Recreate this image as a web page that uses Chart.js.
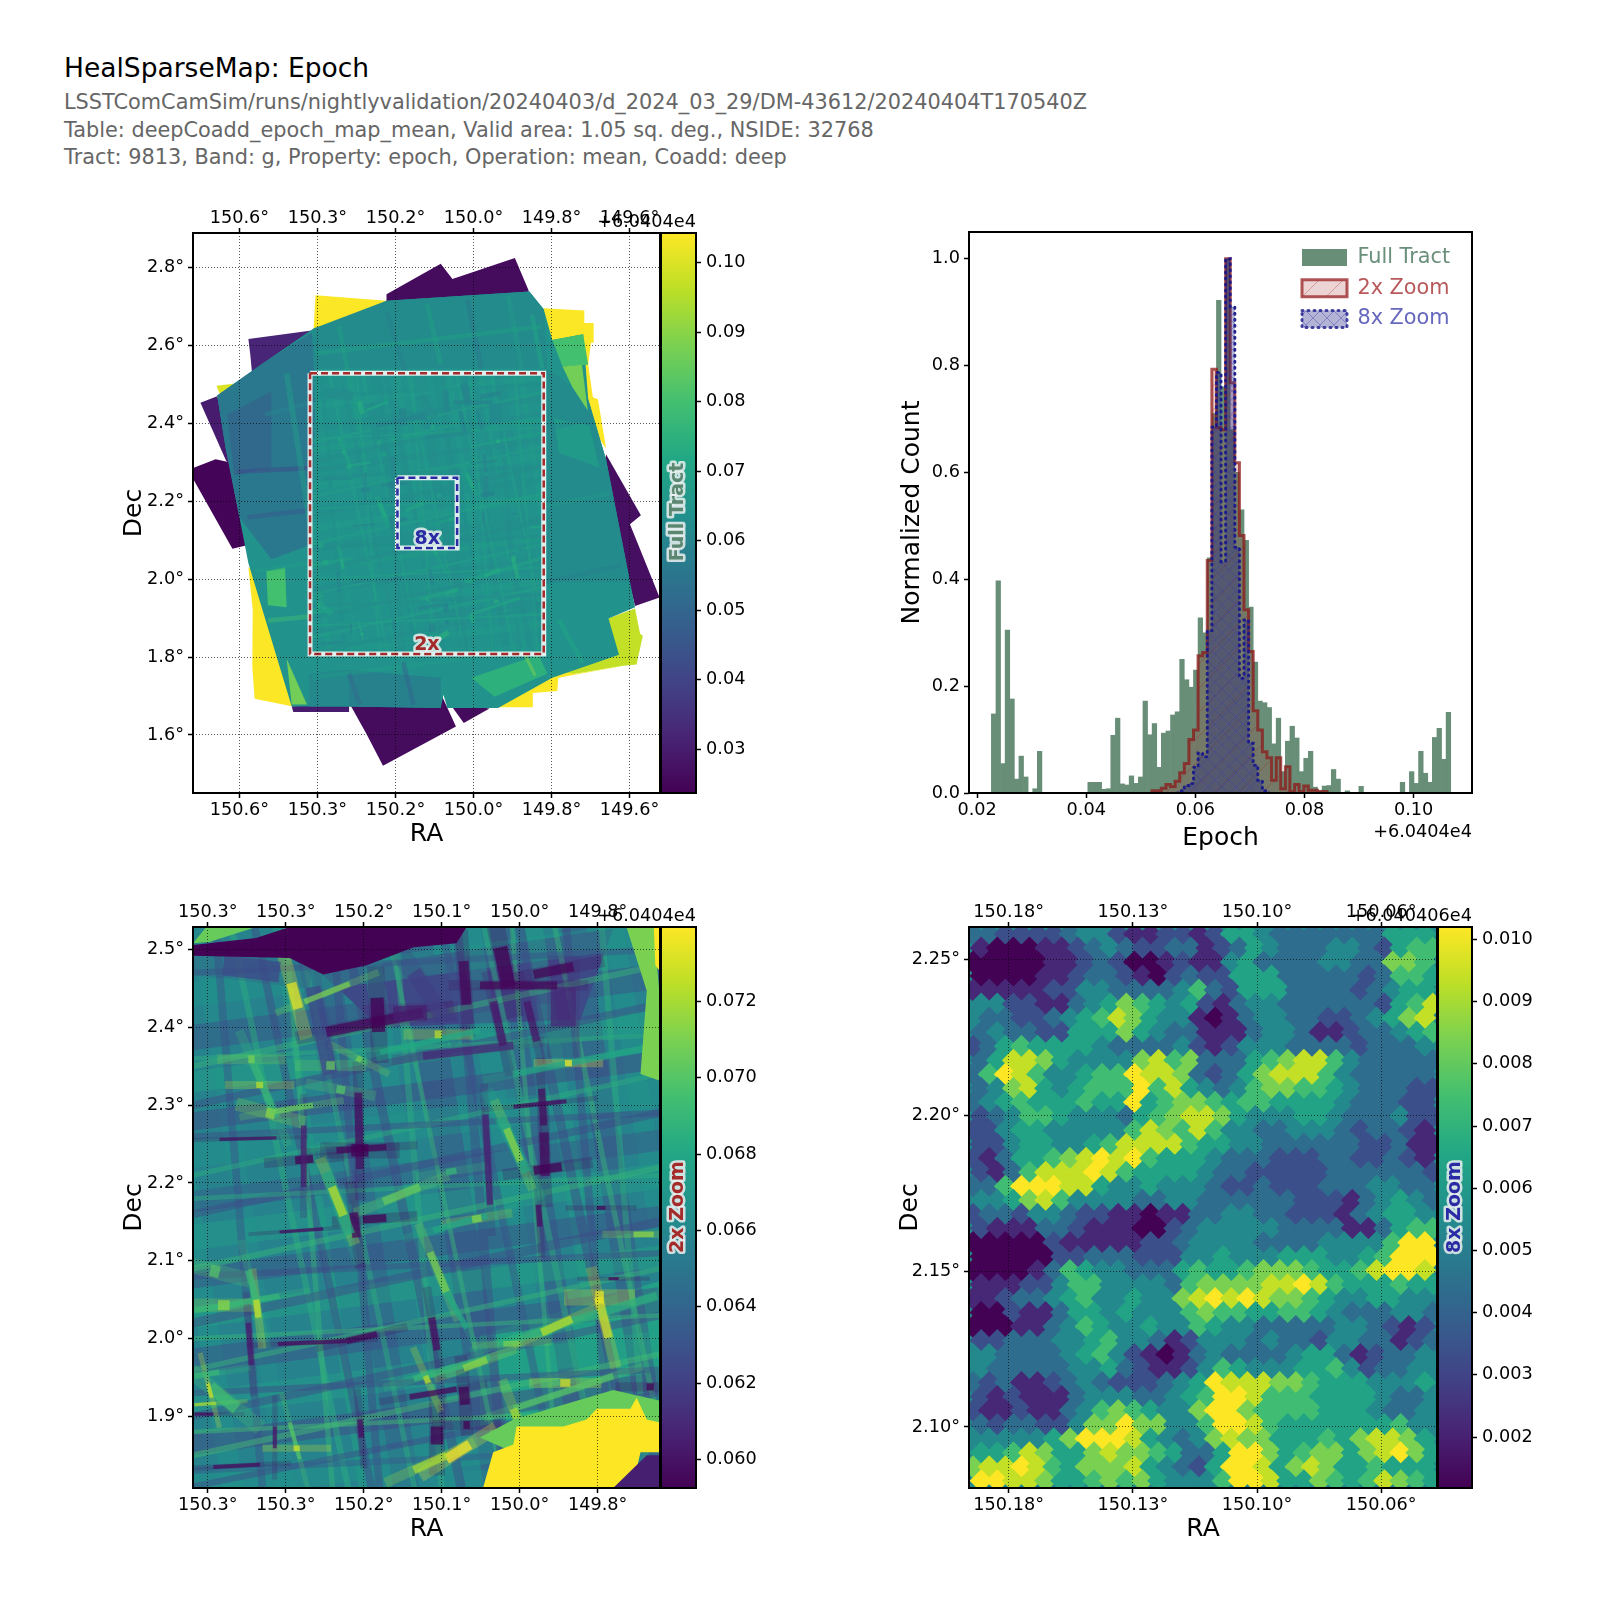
<!DOCTYPE html>
<html>
<head>
<meta charset="utf-8">
<title>HealSparseMap: Epoch</title>
<script src="https://cdn.jsdelivr.net/npm/chart.js@4/dist/chart.umd.js"></script>
<style>
	html, body { margin: 0; padding: 0; background: #fff; }
	#page { position: relative; width: 1600px; height: 1600px; overflow: hidden; font-family: "DejaVu Sans"; }
	#page canvas { position: absolute; }
	.txt { position: absolute; line-height: 1; white-space: pre; z-index: 5; }
</style>
</head>
<body>
<div id="page"></div>
<script>
'use strict';

const titleLines = [
	'HealSparseMap: Epoch',
	'LSSTComCamSim/runs/nightlyvalidation/20240403/d_2024_03_29/DM-43612/20240404T170540Z',
	'Table: deepCoadd_epoch_map_mean, Valid area: 1.05 sq. deg., NSIDE: 32768',
	'Tract: 9813, Band: g, Property: epoch, Operation: mean, Coadd: deep'
];

// --- histogram (values are normalised counts, 100 bins) ---
const binStart = 0.0226;
const binWidth = 0.000842;
const fullTractCounts = [
	.148, .397, .055, .305, .176, .026, .069, .03, 0, .008,
	.078, 0, 0, 0, 0, 0, 0, 0, 0, 0,
	0, .02, .02, .02, .007, .008, .108, .14, .017, .015,
	.032, .018, .03, .172, .109, .13, .048, .112, .116, .146,
	.152, .25, .212, .198, .23, .328, .30, .44, .71, .922,
	.76, 1, .68, .6, .53, .473, .348, .245, .172, .169,
	.16, .092, .14, .04, .097, .125, .103, .04, .065, .078,
	.011, .004, .013, .014, .044, .026, 0, .004, 0, 0,
	.0125, 0, 0, 0, 0, 0, 0, 0, 0, .02,
	0, .04, .018, .078, .037, .02, .104, .121, .063, .151
];
const zoom2xFirstBin = 34;
const zoom2xCounts = [0, .004, .004, .009, .016, .012, .022, .038, .055, .10, .118, .257, .263, .435, .793, .684, .68, 1, .768, .618, .482, .343, .265, .154, .118, .077, .066, .024, .066, .008, .049, .003, .016, .003, .013, .005, .005, .003, .003, 0];
const zoom8xFirstBin = 40;
const zoom8xCounts = [0, .004, .014, .018, .048, .075, .068, .304, .685, .787, .433, 1, .91, .46, .215, .324, .093, .052, .024, .004, 0];
const histTicks = [0.02, 0.04, 0.06, 0.08, 0.10];
const histTickLabels = ['0.02', '0.04', '0.06', '0.08', '0.10'];
const histCountTicks = [0, 0.2, 0.4, 0.6, 0.8, 1.0];
const histCountLabels = ['0.0', '0.2', '0.4', '0.6', '0.8', '1.0'];

// --- axis ticks of the sky panels ---
const fullRaTicks = [150.55, 150.35, 150.15, 149.95, 149.75, 149.55];
const fullRaLabels = ['150.6°', '150.3°', '150.2°', '150.0°', '149.8°', '149.6°'];
const fullDecTicks = [2.8, 2.6, 2.4, 2.2, 2.0, 1.8, 1.6];
const fullDecLabels = ['2.8°', '2.6°', '2.4°', '2.2°', '2.0°', '1.8°', '1.6°'];
const fullBarTicks = [0.03, 0.04, 0.05, 0.06, 0.07, 0.08, 0.09, 0.10];
const fullBarLabels = ['0.03', '0.04', '0.05', '0.06', '0.07', '0.08', '0.09', '0.10'];

const zoom2RaTicks = [150.35, 150.25, 150.15, 150.05, 149.95, 149.85];
const zoom2RaLabels = ['150.3°', '150.3°', '150.2°', '150.1°', '150.0°', '149.8°'];
const zoom2DecTicks = [2.5, 2.4, 2.3, 2.2, 2.1, 2.0, 1.9];
const zoom2DecLabels = ['2.5°', '2.4°', '2.3°', '2.2°', '2.1°', '2.0°', '1.9°'];
const zoom2BarTicks = [0.060, 0.062, 0.064, 0.066, 0.068, 0.070, 0.072];
const zoom2BarLabels = ['0.060', '0.062', '0.064', '0.066', '0.068', '0.070', '0.072'];

const zoom8RaTicks = [150.175, 150.135, 150.095, 150.055];
const zoom8RaLabels = ['150.18°', '150.13°', '150.10°', '150.06°'];
const zoom8DecTicks = [2.25, 2.20, 2.15, 2.10];
const zoom8DecLabels = ['2.25°', '2.20°', '2.15°', '2.10°'];
const zoom8BarTicks = [0.002, 0.003, 0.004, 0.005, 0.006, 0.007, 0.008, 0.009, 0.010];
const zoom8BarLabels = ['0.002', '0.003', '0.004', '0.005', '0.006', '0.007', '0.008', '0.009', '0.010'];

// --- axis limits [left, right, bottom, top], colour limits [min, max] ---
const fullLimits = [150.669, 149.472, 1.451, 2.889];
const fullRange = [0.0237, 0.1043];
const zoom2Limits = [150.369, 149.770, 1.808, 2.529];
const zoom2Range = [0.05925, 0.07395];
const zoom8Limits = [150.1878, 150.037, 2.0804, 2.2605];
const zoom8Range = [0.00118, 0.0102];

// --- sky footprints in the tract: [ra[], dec[], epoch offset] ---
const outerVisits = [
	[[150.355, 150.173, 150.216, 150.360], [2.729, 2.715, 2.668, 2.639], .104],
	[[149.770, 149.666, 149.666, 149.642, 149.642, 149.649, 149.656, 149.644, 149.631, 149.610, 149.774], [2.696, 2.690, 2.658, 2.658, 2.607, 2.607, 2.551, 2.467, 2.462, 2.335, 2.580], .104],
	[[150.527, 150.516, 150.517, 150.511, 150.416, 150.364, 150.468], [2.031, 1.923, 1.776, 1.693, 1.674, 1.678, 1.992], .104],
	[[149.605, 149.536, 149.523, 149.516, 149.532, 149.566, 149.688, 149.733, 149.774], [1.899, 1.925, 1.860, 1.855, 1.781, 1.778, 1.757, 1.747, 1.845], .097],
	[[149.688, 149.566, 149.733, 149.735, 149.798, 149.798, 149.891, 149.774], [1.757, 1.778, 1.747, 1.713, 1.708, 1.671, 1.671, 1.767], .104],
	[[150.609, 150.550, 150.598], [2.497, 2.504, 2.470], .1],
	[[150.173, 150.034, 150.004, 149.844, 149.809, 149.809, 150.173], [2.732, 2.810, 2.771, 2.825, 2.742, 2.678, 2.678], .0262],
	[[150.527, 150.360, 150.360, 150.485, 150.516, 150.522], [2.617, 2.639, 2.560, 2.521, 2.511, 2.575], .032],
	[[150.650, 150.607, 150.542, 150.585], [2.453, 2.470, 2.247, 2.306], .03],
	[[150.667, 150.611, 150.555, 150.520, 150.568, 150.667], [2.286, 2.308, 2.296, 2.090, 2.078, 2.255], .0245],
	[[150.269, 150.030, 149.995, 150.182, 150.225], [1.683, 1.698, 1.622, 1.521, 1.604], .0262],
	[[150.012, 149.909, 149.975], [1.682, 1.668, 1.631], .0262],
	[[149.610, 149.521, 149.549, 149.473, 149.536, 149.575, 149.618], [2.320, 2.164, 2.141, 1.953, 1.931, 2.090, 2.286], .027],
	[[150.416, 150.269, 150.269, 150.412], [1.674, 1.678, 1.659, 1.659], .03]
];
const mosaicOutline = [
	[[150.607, 150.485, 150.360, 150.221, 150.173, 149.807, 149.770, 149.748, 149.669, 149.656, 149.610, 149.536, 149.604, 149.577, 149.748, 149.887, 150.017, 150.027, 150.034, 150.269, 150.416, 150.468, 150.527, 150.550, 150.585],
		[2.472, 2.558, 2.644, 2.688, 2.715, 2.739, 2.693, 2.614, 2.629, 2.462, 2.306, 1.928, 1.899, 1.806, 1.747, 1.669, 1.669, 1.703, 1.669, 1.673, 1.673, 1.845, 2.041, 2.159, 2.335], .0645]
];
const mosaicPatches = [
	[[150.607, 150.485, 150.364, 150.355, 150.364, 150.468, 150.550, 150.585], [2.472, 2.558, 2.634, 2.502, 2.090, 2.051, 2.159, 2.335], .056],
	[[150.581, 150.468, 150.468, 150.563], [2.423, 2.482, 2.286, 2.266], .051],
	[[150.360, 150.173, 149.807, 149.770, 149.761, 150.360], [2.644, 2.715, 2.739, 2.693, 2.541, 2.541], .062],
	[[149.761, 149.656, 149.610, 149.549, 149.761], [2.541, 2.462, 2.306, 1.992, 1.992], .062],
	[[149.748, 149.669, 149.656, 149.722], [2.614, 2.629, 2.551, 2.546], .08],
	[[149.722, 149.672, 149.657, 149.696], [2.546, 2.551, 2.433, 2.492], .087],
	[[149.744, 149.653, 149.627, 149.731], [2.413, 2.394, 2.286, 2.325], .067],
	[[150.481, 150.433, 150.429, 150.477], [2.021, 2.031, 1.928, 1.933], .08],
	[[150.429, 150.377, 150.416], [1.796, 1.678, 1.678], .087],
	[[149.956, 149.783, 149.761, 149.896], [1.747, 1.806, 1.757, 1.698], .075],
	[[150.269, 150.034, 150.034, 150.269], [1.767, 1.747, 1.669, 1.673], .059],
	[[150.372, 150.269, 150.269, 150.372], [1.757, 1.767, 1.673, 1.673], .061]
];
const mosaicStreaks = [
	[150.295, 2.649, 150.242, 2.384, .012, .07], [150.173, 2.688, 150.121, 2.521, .012, .058],
	[150.069, 2.707, 150.034, 2.551, .012, .07], [149.965, 2.717, 149.930, 2.541, .012, .055],
	[149.861, 2.727, 149.826, 2.541, .012, .068], [149.800, 2.678, 149.774, 2.541, .012, .072],
	[150.355, 2.580, 149.774, 2.649, .012, .07], [150.485, 2.423, 150.364, 2.453, .012, .06],
	[150.555, 2.276, 150.364, 2.286, .012, .04], [150.529, 2.159, 150.364, 2.178, .012, .045],
	[150.511, 2.021, 150.372, 2.041, .012, .068], [150.477, 1.894, 150.372, 1.904, .012, .08],
	[149.766, 2.384, 149.650, 2.414, .012, .06], [149.766, 2.188, 149.600, 2.221, .012, .066],
	[149.766, 1.992, 149.570, 2.036, .012, .058], [150.364, 1.747, 149.818, 1.816, .012, .068],
	[150.269, 1.757, 150.242, 1.678, .012, .05], [150.130, 1.786, 150.104, 1.678, .012, .048],
	[149.818, 1.806, 149.792, 1.752, .008, .09], [149.731, 1.894, 149.670, 1.786, .012, .072]
];

// --- the overlapping visits inside the 2x window: [ra0, dec0, ra1, dec1, width deg, epoch offset] ---
const crossPassesV = [
	[150.429, 2.529, 150.318, 1.808, .015, .067], [150.360, 2.529, 150.249, 1.808, .013, .0665],
	[150.262, 2.529, 150.151, 1.808, .006, .068], [150.206, 2.529, 150.095, 1.808, .019, .063],
	[150.146, 2.529, 150.035, 1.808, .013, .067], [150.086, 2.529, 149.975, 1.808, .023, .0625],
	[150.014, 2.529, 149.903, 1.808, .015, .067], [149.975, 2.529, 149.864, 1.808, .015, .0625],
	[149.932, 2.529, 149.821, 1.808, .013, .0675], [149.881, 2.529, 149.770, 1.808, .018, .0625],
	[149.830, 2.529, 149.770, 2.140, .015, .067]
];
const crossPassesH = [
	[150.369, 2.443, 149.770, 2.522, .018, .067], [150.369, 2.387, 149.770, 2.466, .018, .0625],
	[150.369, 2.330, 149.770, 2.409, .015, .068], [150.369, 2.279, 149.770, 2.358, .013, .062],
	[150.369, 2.237, 149.770, 2.316, .02, .067], [150.369, 2.176, 149.770, 2.255, .015, .063],
	[150.369, 2.130, 149.770, 2.209, .018, .0675], [150.369, 2.078, 149.770, 2.157, .015, .0625],
	[150.369, 2.027, 149.770, 2.106, .015, .068], [150.369, 1.971, 149.770, 2.050, .018, .0625],
	[150.369, 1.915, 149.770, 1.994, .018, .0675], [150.369, 1.864, 149.770, 1.943, .015, .062],
	[150.369, 1.808, 149.770, 1.886, .02, .067], [150.150, 1.808, 149.770, 1.826, .018, .0665]
];
const crossPassesFine = [
	[150.320, 2.529, 150.170, 1.808, .008, .0685], [150.290, 2.529, 150.140, 1.808, .01, .0625],
	[150.235, 2.529, 150.085, 1.808, .007, .0685], [150.175, 2.529, 150.025, 1.808, .012, .0625],
	[150.120, 2.529, 149.970, 1.808, .006, .069], [150.050, 2.529, 149.900, 1.808, .01, .063],
	[149.995, 2.529, 149.845, 1.808, .008, .0685], [149.950, 2.529, 149.800, 1.808, .012, .0625],
	[149.905, 2.529, 149.770, 1.880, .007, .069], [150.340, 2.529, 150.280, 1.808, .01, .063],
	[150.250, 2.529, 150.190, 1.808, .007, .069], [150.190, 2.529, 150.130, 1.808, .01, .0625],
	[150.110, 2.529, 150.050, 1.808, .008, .0685], [150.030, 2.529, 149.970, 1.808, .012, .0625],
	[149.960, 2.529, 149.900, 1.808, .006, .069], [149.890, 2.529, 149.830, 1.808, .01, .0625],
	[149.845, 2.529, 149.785, 1.808, .008, .0685], [150.369, 2.350, 149.770, 2.480, .008, .069],
	[150.369, 2.300, 149.770, 2.430, .01, .0625], [150.369, 2.210, 149.770, 2.340, .007, .0685],
	[150.369, 2.160, 149.770, 2.290, .01, .0625], [150.369, 2.090, 149.770, 2.220, .008, .069],
	[150.369, 2.020, 149.770, 2.150, .012, .0625], [150.369, 1.960, 149.770, 2.090, .007, .069],
	[150.369, 1.900, 149.770, 2.030, .01, .0625], [150.369, 1.850, 149.770, 1.980, .008, .0695],
	[150.369, 1.810, 149.770, 1.930, .008, .0625], [150.369, 2.470, 149.770, 2.500, .008, .063],
	[150.369, 2.360, 149.770, 2.390, .006, .0685], [150.369, 2.260, 149.770, 2.290, .008, .0625],
	[150.369, 2.180, 149.770, 2.210, .006, .0685], [150.369, 2.080, 149.770, 2.110, .008, .0625],
	[150.369, 2.000, 149.770, 2.030, .006, .069], [150.369, 1.930, 149.770, 1.960, .008, .0625],
	[150.369, 1.880, 149.770, 1.910, .006, .0695], [150.369, 1.830, 149.770, 1.860, .008, .0635]
];
const shallowStreaks = [
	[150.330, 2.480, 150.258, 2.471, .026, .0625], [149.894, 2.452, 149.894, 2.401, .032, .061],
	[150.086, 2.471, 150.048, 2.415, .019, .062], [150.215, 2.452, 150.193, 2.340, .019, .0625],
	[150.074, 2.363, 149.958, 2.377, .01, .061], [150.198, 2.394, 150.074, 2.419, .013, .0595],
	[150.133, 2.438, 150.131, 2.394, .017, .0593], [150.112, 2.417, 150.069, 2.419, .02, .0605],
	[150.022, 2.485, 150.018, 2.429, .013, .0595], [149.975, 2.503, 149.964, 2.452, .018, .0593],
	[150.001, 2.454, 149.902, 2.454, .01, .0595], [149.932, 2.468, 149.881, 2.478, .012, .0595],
	[149.984, 2.433, 149.971, 2.377, .01, .0602], [149.941, 2.433, 149.928, 2.382, .009, .0602],
	[150.157, 2.316, 150.155, 2.218, .01, .0598], [150.185, 2.242, 150.121, 2.246, .008, .0595],
	[150.166, 2.242, 150.144, 2.242, .016, .0593], [150.238, 2.229, 150.215, 2.231, .01, .0593],
	[150.227, 2.274, 150.227, 2.195, .007, .0605], [149.922, 2.321, 149.919, 2.274, .009, .0598],
	[149.919, 2.265, 149.917, 2.209, .012, .0597], [149.932, 2.216, 149.896, 2.221, .011, .0593],
	[149.958, 2.298, 149.890, 2.305, .005, .0598], [149.994, 2.288, 149.988, 2.172, .008, .0605],
	[150.163, 2.162, 150.159, 2.130, .011, .0595], [150.151, 2.153, 150.121, 2.155, .01, .0593],
	[150.335, 2.256, 150.262, 2.258, .004, .0598], [150.260, 1.993, 150.172, 1.997, .005, .0597],
	[150.172, 1.997, 150.133, 2.006, .008, .0595], [150.063, 2.027, 150.056, 1.985, .009, .0598],
	[150.298, 2.020, 150.294, 1.966, .007, .0603], [150.091, 1.925, 150.031, 1.935, .007, .0597],
	[150.022, 1.938, 150.020, 1.915, .013, .0593], [150.022, 1.889, 150.014, 1.889, .01, .0593],
	[150.056, 1.887, 150.056, 1.864, .016, .0593], [149.926, 2.172, 149.924, 2.144, .007, .0598],
	[149.851, 2.168, 149.840, 2.168, .005, .0595], [149.836, 2.077, 149.823, 2.077, .004, .0595],
	[149.787, 1.938, 149.778, 1.938, .009, .0593], [150.155, 1.896, 150.153, 1.873, .007, .0598],
	[150.367, 1.903, 150.343, 1.903, .004, .0597], [150.264, 1.887, 150.264, 1.859, .005, .0602],
	[150.343, 1.835, 150.283, 1.838, .005, .0597], [150.258, 2.137, 150.202, 2.141, .004, .0598]
];
const deepStreaks = [
	[150.129, 2.368, 150.001, 2.396, .007, .068], [149.958, 2.340, 149.770, 2.377, .008, .068],
	[150.294, 2.359, 150.262, 2.284, .009, .069], [149.975, 2.284, 149.941, 2.214, .013, .068],
	[150.198, 2.214, 150.168, 2.134, .014, .068], [150.061, 2.139, 149.992, 2.158, .008, .068],
	[150.044, 2.060, 150.018, 2.013, .007, .068], [150.367, 2.036, 150.258, 2.055, .007, .069],
	[150.298, 2.088, 150.283, 2.027, .008, .069], [149.975, 1.994, 149.774, 2.055, .01, .0685],
	[150.086, 1.948, 149.988, 1.976, .008, .069], [149.958, 1.910, 149.830, 1.952, .008, .07],
	[150.367, 1.952, 150.335, 1.957, .007, .069], [150.347, 1.938, 150.313, 1.910, .015, .0695],
	[150.245, 1.892, 150.232, 1.845, .005, .07], [150.243, 2.457, 150.234, 2.424, .013, .0735],
	[150.226, 2.433, 150.168, 2.456, .007, .071], [150.059, 2.391, 150.050, 2.391, .01, .0725],
	[149.892, 2.354, 149.883, 2.354, .008, .074], [150.298, 2.359, 150.290, 2.359, .01, .071],
	[150.288, 2.326, 150.279, 2.326, .008, .0725], [150.275, 2.291, 150.264, 2.288, .013, .0715],
	[150.270, 2.291, 150.215, 2.300, .007, .0705], [150.198, 2.351, 150.187, 2.351, .011, .0705],
	[150.159, 2.361, 150.153, 2.358, .007, .071], [150.185, 2.321, 150.174, 2.319, .01, .07],
	[149.967, 2.270, 149.949, 2.228, .009, .0715], [150.191, 2.195, 150.176, 2.158, .011, .0725],
	[150.125, 2.176, 150.078, 2.195, .01, .0705], [150.044, 2.214, 150.031, 2.216, .008, .069],
	[150.011, 2.153, 149.999, 2.155, .009, .0715], [150.065, 2.111, 150.044, 2.060, .009, .071],
	[150.347, 2.088, 150.335, 2.085, .015, .07], [150.337, 2.043, 150.322, 2.043, .013, .0715],
	[150.288, 2.050, 150.285, 2.027, .008, .073], [149.849, 2.053, 149.836, 2.001, .011, .073],
	[149.853, 2.053, 149.842, 2.053, .016, .0735], [149.922, 2.008, 149.883, 2.025, .01, .0725],
	[149.971, 1.993, 149.949, 1.994, .007, .071], [150.022, 1.962, 149.992, 1.973, .009, .0715],
	[150.071, 1.952, 150.067, 1.943, .007, .0725], [149.898, 1.943, 149.885, 1.943, .01, .073],
	[149.958, 1.910, 149.949, 1.887, .01, .072], [150.240, 1.859, 150.232, 1.859, .007, .073],
	[149.804, 2.134, 149.778, 2.134, .007, .0715], [150.367, 1.915, 150.339, 1.917, .004, .072],
	[150.350, 1.943, 150.345, 1.924, .005, .073], [150.044, 1.845, 150.014, 1.864, .013, .074],
	[150.086, 1.831, 150.044, 1.850, .01, .072]
];
const zoom2Background = [[[150.369, 149.770, 149.770, 150.369], [2.529, 2.529, 1.808, 1.808], .0658]];
const zoom2Wash = [
	[[150.206, 149.830, 149.872, 150.129], [2.471, 2.527, 2.410, 2.400], .0625],
	[[150.001, 149.770, 149.770, 150.001], [2.004, 2.074, 1.910, 1.887], .0675]
];
const zoom2Regions = [
	[[150.245, 150.018, 150.031, 150.086, 150.146, 150.202, 150.245, 150.369, 150.369, 150.288], [2.529, 2.529, 2.508, 2.503, 2.480, 2.468, 2.489, 2.492, 2.506, 2.515], .0593],
	[[150.352, 150.288, 150.347, 150.369], [2.529, 2.529, 2.510, 2.508], .0705],
	[[149.813, 149.778, 149.769, 149.769, 149.795, 149.787], [2.529, 2.529, 2.424, 2.331, 2.340, 2.447], .071],
	[[149.778, 149.769, 149.769, 149.776], [2.529, 2.529, 2.471, 2.480], .074],
	[[150.001, 149.958, 149.830, 149.769, 149.769, 149.958], [1.873, 1.896, 1.934, 1.920, 1.892, 1.854], .0705],
	[[149.954, 149.894, 149.864, 149.851, 149.808, 149.800, 149.787, 149.769, 149.769, 149.795, 149.800, 149.830, 149.997, 149.984, 149.958], [1.887, 1.887, 1.896, 1.910, 1.910, 1.924, 1.896, 1.892, 1.854, 1.854, 1.832, 1.808, 1.808, 1.854, 1.864], .074],
	[[149.787, 149.769, 149.769, 149.830], [1.850, 1.850, 1.808, 1.808], .0605]
];

// the two zoom windows drawn on the full tract: ra[], dec[]
const window2xRa = [150.369, 149.770, 149.770, 150.369, 150.369];
const window2xDec = [2.529, 2.529, 1.808, 1.808, 2.529];
const window8xRa = [150.145, 149.992, 149.992, 150.145, 150.145];
const window8xDec = [2.2605, 2.2605, 2.0804, 2.0804, 2.2605];

// --- 8x window: epoch level of each healpix-like cell, row by row from the top ---
const zoom8LevelValues = [.0012, .0022, .0034, .0044, .0054, .0064, .0074, .0084, .0094, .0102];
const zoom8Levels = [
	'33222234421122125543333333555', '10001123432233123543334432566', '00000112320012114533334433776',
	'00001123321023225553333323665', '11111224433334632555333323455', '44221134576545213443333332568',
	'43322345687544101344332234578', '34332255575433111344311233456', '23565555433334212444333323334',
	'35887544447867333567886433333', '36986445669887323578886433333', '34785456669685434677665433322',
	'34565556559567765665555433322', '23466544435678875444554333422', '22455444446876864433444323321',
	'22455445688886554433333322311', '21355678989655543332223322321', '21368889865555433222223333332',
	'33699988544544432232223334433', '44578644443344333333222134543', '23324432211011334433222134554',
	'21113321110023444443333113566', '00000211111223444433334444699', '00000223332224454445554456999',
	'00001365443335655677765568998', '11122466444436777788986555655', '11233456445447898987765445544',
	'00211355454446766556654333443', '00011346544544654433333443212', '22333445644312444343324433123',
	'44333345642101343333455312334', '43333344532112465444556423344', '32311234322234598887765554445',
	'21211134443345699866655554334', '21121134676544799766665554334', '32332247797744699865555555644',
	'44444579998543478775556578875', '55687557877653359975677578975', '78898657778543259985787556555',
	'99887556767544469985576568765'
];
const zoom8Backdrop = [[[150.1878, 150.037, 150.037, 150.1878], [2.2605, 2.2605, 2.0804, 2.0804], .0054]];
const zoom8Origin = [150.1878, 2.2605];
const zoom8Step = [0.0052, 0.0045];

// --- viridis colour table ---
const viridisStops = [
	[68, 1, 84], [72, 36, 117], [65, 68, 135], [53, 95, 141], [42, 120, 142], [33, 145, 140],
	[34, 168, 132], [68, 191, 112], [122, 209, 81], [189, 223, 38], [253, 231, 37]
];
const viridis = (t, alpha) => {
	const p = Math.min(Math.max(t, 0), 1) * (viridisStops.length - 1);
	const i = Math.min(Math.floor(p), viridisStops.length - 2);
	const c = viridisStops[i].map((v, k) => Math.round(v + (viridisStops[i + 1][k] - v) * (p - i)));
	return 'rgba(' + c.join(',') + ',' + (alpha === undefined ? 1 : alpha) + ')';
};
const colourOf = (value, range, alpha) => viridis((value - range[0]) / (range[1] - range[0]), alpha);

// --- panel rectangles on the page ---
const FONT = '"DejaVu Sans"';
const TICK_SIZE = 17.7;
const LABEL_SIZE = 25;
const page = document.getElementById('page');
const MARGIN = {left: 90, top: 40, bottom: 75, right: 4};

const addText = (text, x, baseline, size, color, align) => {
	const el = document.createElement('div');
	el.className = 'txt';
	el.textContent = text;
	el.style.fontSize = size + 'px';
	el.style.color = color;
	el.style.top = (baseline - 0.846 * size) + 'px';
	if (align === 'right') {
		el.style.right = (1600 - x) + 'px';
	} else {
		el.style.left = x + 'px';
	}
	page.appendChild(el);
};

const addCanvas = (left, top, width, height) => {
	const canvas = document.createElement('canvas');
	canvas.width = width;
	canvas.height = height;
	canvas.style.left = left + 'px';
	canvas.style.top = top + 'px';
	canvas.style.width = width + 'px';
	canvas.style.height = height + 'px';
	page.appendChild(canvas);
	return canvas;
};

const framePlugin = {
	id: 'frame',
	afterDraw(chart) {
		const {ctx, chartArea: a} = chart;
		ctx.save();
		ctx.lineWidth = 2;
		ctx.strokeStyle = '#000';
		ctx.strokeRect(a.left, a.top, a.right - a.left, a.bottom - a.top);
		ctx.restore();
	}
};

// fixes the axis box so the plot area lands on the wanted pixels
const fixedBox = (size) => (scale) => {
	if (scale.isHorizontal()) {
		scale.height = size;
	} else {
		scale.width = size;
	}
	scale.paddingLeft = scale.paddingRight = scale.paddingTop = scale.paddingBottom = 0;
};

const tickedAxis = (positions, labels, labelGap, extra) => Object.assign({
	type: 'linear',
	afterBuildTicks: (scale) => {
		scale.ticks = positions.map((v) => ({value: v}));
	},
	ticks: {
		autoSkip: false,
		maxRotation: 0,
		minRotation: 0,
		padding: labelGap,
		color: '#000',
		font: {family: FONT, size: TICK_SIZE},
		callback: (v, i) => labels[i]
	},
	border: {display: false, dash: [1, 2]}
}, extra);

const dottedGrid = {
	color: 'rgba(0,0,0,0.65)',
	lineWidth: 1,
	z: 1,
	tickLength: 5,
	tickColor: '#000',
	tickWidth: 1.5,
	tickBorderDash: []
};
const ticksOnlyGrid = {drawOnChartArea: false, tickLength: 5, tickColor: '#000', tickWidth: 1.5};

const polygonSets = (polygons, range) => polygons.map(([ra, dec, value]) => ({
	data: ra.map((x, i) => ({x: x, y: dec[i]})),
	showLine: true,
	fill: 'shape',
	backgroundColor: colourOf(value, range),
	borderWidth: 0,
	pointRadius: 0,
	tension: 0
}));

const streakSets = (streaks, range, pxPerDeg, alpha) => streaks.map(([ra0, dec0, ra1, dec1, width, value]) => ({
	data: [{x: ra0, y: dec0}, {x: ra1, y: dec1}],
	showLine: true,
	fill: false,
	borderColor: colourOf(value, range, alpha),
	borderWidth: width * pxPerDeg,
	pointRadius: 0
}));

// a visit keeps running past its deepest part: same line, longer and fainter
const haloSets = (streaks, range, pxPerDeg, alpha) => streaks.map(([ra0, dec0, ra1, dec1, width, value]) => {
	const dRa = ra1 - ra0 + 0.0001;
	const dDec = dec1 - dec0;
	const reach = 0.04 / Math.hypot(dRa, dDec);
	return {
		data: [
			{x: ra0 - dRa * reach, y: dec0 - dDec * reach},
			{x: ra1 + dRa * reach, y: dec1 + dDec * reach}
		],
		showLine: true,
		fill: false,
		borderColor: colourOf(value, range, alpha),
		borderWidth: width * pxPerDeg * 1.3,
		pointRadius: 0
	};
});

const windowSets = (ra, dec, color) => {
	const data = ra.map((x, i) => ({x: x, y: dec[i]}));
	return [
		{data: data, showLine: true, fill: false, borderColor: 'rgba(255,255,255,0.85)', borderWidth: 5, pointRadius: 0},
		{data: data, showLine: true, fill: false, borderColor: color, borderWidth: 2.5, borderDash: [7, 4], pointRadius: 0}
	];
};

const skyPanel = (rect, limits, raTicks, raLabels, decTicks, decLabels, datasets, plugins) => {
	const canvas = addCanvas(rect.l - MARGIN.left, rect.t - MARGIN.top,
		rect.r - rect.l + MARGIN.left + MARGIN.right, rect.b - rect.t + MARGIN.top + MARGIN.bottom);
	return new Chart(canvas, {
		type: 'scatter',
		// the first dataset is painted last, so flip the paint order
		data: {datasets: datasets.slice().reverse()},
		plugins: [framePlugin].concat(plugins || []),
		options: {
			responsive: false,
			animation: false,
			devicePixelRatio: 1,
			events: [],
			layout: {autoPadding: false, padding: {right: MARGIN.right}},
			plugins: {legend: {display: false}, tooltip: {enabled: false}},
			scales: {
				x: tickedAxis(raTicks, raLabels, 2, {
					position: 'bottom',
					reverse: true,
					min: limits[1],
					max: limits[0],
					afterFit: fixedBox(MARGIN.bottom),
					grid: dottedGrid,
					title: {display: true, text: 'RA', color: '#000', font: {family: FONT, size: LABEL_SIZE}, padding: {top: 0, bottom: 19}}
				}),
				xTop: tickedAxis(raTicks, raLabels, -1, {
					axis: 'x',
					position: 'top',
					reverse: true,
					min: limits[1],
					max: limits[0],
					afterFit: fixedBox(MARGIN.top),
					grid: ticksOnlyGrid
				}),
				y: tickedAxis(decTicks, decLabels, 4, {
					position: 'left',
					min: limits[2],
					max: limits[3],
					afterFit: fixedBox(MARGIN.left),
					grid: dottedGrid,
					title: {display: true, text: 'Dec', color: '#000', font: {family: FONT, size: LABEL_SIZE}, padding: {top: 16, bottom: 0}}
				})
			}
		}
	});
};

const colorBar = (left, right, top, bottom, range, ticks, labels, name, nameColor, nameY) => {
	const pad = 4;
	const axisWidth = 64;
	const canvas = addCanvas(left, top - pad, right - left + axisWidth, bottom - top + 2 * pad);
	const namePlugin = {
		id: 'barName',
		afterDraw(chart) {
			const {ctx, chartArea: a} = chart;
			ctx.save();
			ctx.translate((a.left + a.right) / 2, nameY - top + pad);
			ctx.rotate(-Math.PI / 2);
			ctx.font = 'bold 19px ' + FONT;
			ctx.textAlign = 'center';
			ctx.textBaseline = 'middle';
			ctx.lineJoin = 'round';
			ctx.lineWidth = 5;
			ctx.strokeStyle = 'rgba(235,240,240,0.85)';
			ctx.strokeText(name, 0, 0);
			ctx.fillStyle = nameColor;
			ctx.fillText(name, 0, 0);
			ctx.restore();
		}
	};
	return new Chart(canvas, {
		type: 'bar',
		data: {
			labels: [name],
			datasets: [{
				data: [[range[0], range[1]]],
				barPercentage: 1,
				categoryPercentage: 1,
				borderSkipped: false,
				backgroundColor: (ctx) => {
					const a = ctx.chart.chartArea;
					if (!a) {
						return '#21918c';
					}
					const g = ctx.chart.ctx.createLinearGradient(0, a.bottom, 0, a.top);
					viridisStops.forEach((c, i) => g.addColorStop(i / (viridisStops.length - 1), viridis(i / (viridisStops.length - 1))));
					return g;
				}
			}]
		},
		plugins: [framePlugin, namePlugin],
		options: {
			responsive: false,
			animation: false,
			devicePixelRatio: 1,
			events: [],
			layout: {autoPadding: false, padding: {top: pad, bottom: pad}},
			plugins: {legend: {display: false}, tooltip: {enabled: false}},
			scales: {
				x: {display: false},
				y: tickedAxis(ticks, labels, 5, {
					position: 'right',
					min: range[0],
					max: range[1],
					afterFit: fixedBox(axisWidth),
					grid: ticksOnlyGrid
				})
			}
		}
	});
};

// --- hatch fills for the histogram ---
const hatch = (size, fill, stroke, cross) => {
	const c = document.createElement('canvas');
	c.width = c.height = size;
	const g = c.getContext('2d');
	g.fillStyle = fill;
	g.fillRect(0, 0, size, size);
	g.strokeStyle = stroke;
	g.lineWidth = 1;
	g.beginPath();
	g.moveTo(-1, size + 1);
	g.lineTo(size + 1, -1);
	if (cross) {
		g.moveTo(-1, -1);
		g.lineTo(size + 1, size + 1);
	}
	g.stroke();
	return g.createPattern(c, 'repeat');
};

const histogram = () => {
	const rect = {l: 969, t: 232, r: 1472, b: 793};
	const canvasLeft = rect.l - MARGIN.left;
	const canvasTop = rect.t - MARGIN.top;
	const canvas = addCanvas(canvasLeft, canvasTop,
		rect.r - rect.l + MARGIN.left + MARGIN.right, rect.b - rect.t + MARGIN.top + MARGIN.bottom);
	const binCentre = (i) => binStart + (i + 0.5) * binWidth;
	const hatch2x = hatch(24, 'rgba(165,42,42,0.2)', 'rgba(165,42,42,0.35)', false);
	const hatch8x = hatch(14, 'rgba(25,25,130,0.33)', 'rgba(60,60,170,0.4)', true);
	const legendGap = 10;

	const legendPlacer = {
		id: 'legendPlacer',
		afterLayout(chart) {
			chart.legend.left = 1302 - canvasLeft - legendGap;
			chart.legend.top = 247 - canvasTop - legendGap;
		}
	};

	return new Chart(canvas, {
		type: 'bar',
		data: {
			datasets: [
				{
					type: 'line',
					label: '8x Zoom',
					data: zoom8xCounts.map((v, i) => ({x: binCentre(zoom8xFirstBin + i), y: v})),
					stepped: 'middle',
					fill: 'origin',
					backgroundColor: hatch8x,
					borderColor: 'rgba(25,25,140,0.95)',
					borderWidth: 3,
					borderDash: [1, 5],
					borderCapStyle: 'round',
					pointRadius: 0
				},
				{
					type: 'line',
					label: '2x Zoom',
					data: zoom2xCounts.map((v, i) => ({x: binCentre(zoom2xFirstBin + i), y: v})),
					stepped: 'middle',
					fill: 'origin',
					backgroundColor: hatch2x,
					borderColor: 'rgba(140,25,25,0.75)',
					borderWidth: 3,
					pointRadius: 0
				},
				{
					type: 'bar',
					label: 'Full Tract',
					data: fullTractCounts.map((v, i) => ({x: binCentre(i), y: v})),
					backgroundColor: '#688e78',
					barPercentage: 1,
					categoryPercentage: 1,
					borderWidth: 0
				}
			]
		},
		plugins: [framePlugin, legendPlacer],
		options: {
			responsive: false,
			animation: false,
			devicePixelRatio: 1,
			events: [],
			layout: {autoPadding: false, padding: {right: MARGIN.right, top: MARGIN.top}},
			plugins: {
				tooltip: {enabled: false},
				legend: {
					position: 'chartArea',
					align: 'start',
					labels: {
						boxWidth: 45,
						boxHeight: 17,
						padding: legendGap,
						font: {family: FONT, size: 20.8},
						generateLabels: () => [
							{text: 'Full Tract', fillStyle: '#688e78', fontColor: '#6a8f7a', lineWidth: 0, strokeStyle: 'transparent'},
							{text: '2x Zoom', fillStyle: hatch2x, fontColor: '#b8595b', lineWidth: 3, strokeStyle: 'rgba(150,30,30,0.75)'},
							{text: '8x Zoom', fillStyle: hatch8x, fontColor: '#6668bd', lineWidth: 3, strokeStyle: 'rgba(25,25,140,0.8)', lineDash: [1, 5], lineCap: 'round'}
						]
					}
				}
			},
			scales: {
				x: tickedAxis(histTicks, histTickLabels, 2, {
					position: 'bottom',
					offset: false,
					min: 0.0185,
					max: 0.1107,
					afterFit: fixedBox(MARGIN.bottom),
					grid: {drawOnChartArea: false, offset: false, tickLength: 5, tickColor: '#000', tickWidth: 1.5},
					title: {display: true, text: 'Epoch', color: '#000', font: {family: FONT, size: LABEL_SIZE}, padding: {top: 0, bottom: 15}}
				}),
				y: tickedAxis(histCountTicks, histCountLabels, 4, {
					position: 'left',
					min: 0,
					max: 1.05,
					afterFit: fixedBox(MARGIN.left),
					grid: ticksOnlyGrid,
					title: {display: true, text: 'Normalized Count', color: '#000', font: {family: FONT, size: LABEL_SIZE}, padding: {top: 18, bottom: 0}}
				})
			}
		}
	});
};

// widens the broad visits in the zoomed panel where single footprints show as blocks
const widened = (passes, factor) => passes.map((p) => [p[0], p[1], p[2], p[3], p[4] * factor, p[5]]);

window.onload = function() {
	addText(titleLines[0], 64, 77, 26.5, '#000');
	addText(titleLines[1], 64, 110, 20.83, '#666');
	addText(titleLines[2], 64, 138, 20.83, '#666');
	addText(titleLines[3], 64, 165, 20.83, '#666');

	// full tract
	const fullRect = {l: 193, t: 233, r: 660, b: 793};
	const fullScale = (fullRect.b - fullRect.t) / (fullLimits[3] - fullLimits[2]);
	const windowLabels = {
		id: 'windowLabels',
		afterDatasetsDraw(chart) {
			const {ctx, scales: {x, y}} = chart;
			const put = (text, ra, dec, color) => {
				ctx.save();
				ctx.font = 'bold 19px ' + FONT;
				ctx.textAlign = 'center';
				ctx.lineJoin = 'round';
				ctx.lineWidth = 5;
				ctx.strokeStyle = 'rgba(235,240,240,0.85)';
				ctx.strokeText(text, x.getPixelForValue(ra), y.getPixelForValue(dec) - 4);
				ctx.fillStyle = color;
				ctx.fillText(text, x.getPixelForValue(ra), y.getPixelForValue(dec) - 4);
				ctx.restore();
			};
			put('2x', (window2xRa[0] + window2xRa[1]) / 2, window2xDec[2], '#a52a2a');
			put('8x', (window8xRa[0] + window8xRa[1]) / 2, window8xDec[2], '#2a2aa5');
		}
	};
	skyPanel(fullRect, fullLimits, fullRaTicks, fullRaLabels, fullDecTicks, fullDecLabels, [].concat(
		polygonSets(outerVisits, fullRange),
		polygonSets(mosaicOutline, fullRange),
		polygonSets(mosaicPatches, fullRange),
		streakSets(mosaicStreaks, fullRange, fullScale, 0.45),
		streakSets(crossPassesV, fullRange, fullScale, 0.5),
		streakSets(crossPassesH, fullRange, fullScale, 0.5),
		streakSets(crossPassesFine, fullRange, fullScale, 0.5),
		streakSets(shallowStreaks, fullRange, fullScale, 0.7),
		streakSets(deepStreaks, fullRange, fullScale, 0.7),
		windowSets(window2xRa, window2xDec, '#a52a2a'),
		windowSets(window8xRa, window8xDec, '#2a2aa5')
	), [windowLabels]);
	colorBar(661, 696, 233, 793, fullRange, fullBarTicks, fullBarLabels, 'Full Tract', '#5b8771', 512);
	addText('+6.0404e4', 696, 228, TICK_SIZE, '#000', 'right');

	// histogram
	histogram();
	addText('+6.0404e4', 1472, 838, TICK_SIZE, '#000', 'right');

	// 2x zoom
	const zoom2Rect = {l: 193, t: 927, r: 660, b: 1488};
	const zoom2Scale = (zoom2Rect.b - zoom2Rect.t) / (zoom2Limits[3] - zoom2Limits[2]);
	skyPanel(zoom2Rect, zoom2Limits, zoom2RaTicks, zoom2RaLabels, zoom2DecTicks, zoom2DecLabels, [].concat(
		polygonSets(zoom2Background, zoom2Range),
		polygonSets(zoom2Wash, zoom2Range),
		streakSets(widened(crossPassesV, 1.8), zoom2Range, zoom2Scale, 0.42),
		streakSets(widened(crossPassesH, 1.8), zoom2Range, zoom2Scale, 0.42),
		streakSets(crossPassesFine, zoom2Range, zoom2Scale, 0.45),
		haloSets(shallowStreaks, zoom2Range, zoom2Scale, 0.22),
		haloSets(deepStreaks, zoom2Range, zoom2Scale, 0.25),
		streakSets(shallowStreaks, zoom2Range, zoom2Scale, 0.75),
		streakSets(deepStreaks, zoom2Range, zoom2Scale, 0.7),
		polygonSets(zoom2Regions, zoom2Range)
	));
	colorBar(661, 696, 927, 1488, zoom2Range, zoom2BarTicks, zoom2BarLabels, '2x Zoom', '#a52a2a', 1207);
	addText('+6.0404e4', 696, 922, TICK_SIZE, '#000', 'right');

	// 8x zoom
	const zoom8Points = [];
	const zoom8Colours = [];
	zoom8Levels.forEach((row, r) => {
		row.split('').forEach((level, c) => {
			zoom8Points.push({
				x: zoom8Origin[0] - (c + 0.25 + (r % 2 ? 0.5 : 0)) * zoom8Step[0],
				y: zoom8Origin[1] - (r + 0.5) * zoom8Step[1]
			});
			zoom8Colours.push(colourOf(zoom8LevelValues[Number(level)], zoom8Range));
		});
	});
	skyPanel({l: 969, t: 927, r: 1437, b: 1488}, zoom8Limits, zoom8RaTicks, zoom8RaLabels, zoom8DecTicks, zoom8DecLabels, polygonSets(zoom8Backdrop, zoom8Range).concat([{
		data: zoom8Points,
		pointStyle: 'rectRot',
		pointRadius: 11.5,
		pointBorderWidth: 0,
		pointBackgroundColor: zoom8Colours
	}]));
	colorBar(1438, 1472, 927, 1488, zoom8Range, zoom8BarTicks, zoom8BarLabels, '8x Zoom', '#2a2aa5', 1207);
	addText('+6.040406e4', 1472, 922, TICK_SIZE, '#000', 'right');
};
</script>
</body>
</html>
